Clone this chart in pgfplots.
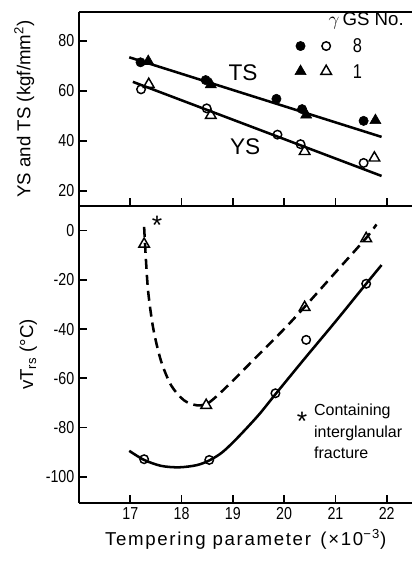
\documentclass[border=0pt]{standalone}
\usepackage{fontspec}
\setmainfont{Liberation Sans}
\newfontfamily\narrowfont[FakeStretch=0.82]{Liberation Sans}
\newfontfamily\widefont[LetterSpace=9]{Liberation Sans}
\usepackage{pgfplots}
\pgfplotsset{compat=1.18}
\usetikzlibrary{calc}
\pgfplotsset{
  every non boxed x axis/.style={},
  every non boxed y axis/.style={},
  panel/.style={
    scale only axis, width=250pt, xmin=16, xmax=22.5,
    xtick={17,18,19,20,21,22},
    tick align=inside, major tick length=6pt,
    tick style={line width=1.3pt, black},
    axis line style={line width=1.6pt},
    /pgf/number format/assume math mode=true,
    tick label style={font=\narrowfont\fontsize{13}{13}\selectfont},
    clip=false,
    every axis y label/.style={at={(axis description cs:0,0.5)}, rotate=90, anchor=center},
    label style={font=\fontsize{14}{16}\selectfont},
  },
  opnc/.style={only marks, mark=o, mark size=3.2pt, mark options={line width=1.1pt, fill=white}, black},
  opnt/.style={only marks, mark=triangle, mark size=4.6pt, mark options={line width=1.1pt, fill=white}, black},
  filc/.style={only marks, mark=*, mark size=3.5pt, black},
  filt/.style={only marks, mark=triangle*, mark size=4.8pt, black},
}
\begin{document}
\begin{tikzpicture}
% upper panel: strength
\begin{axis}[panel, name=top, height=145.5pt,
  ymin=14, ymax=91.5, ytick={20,40,60,80},
  axis x line=box, axis y line=left, xtick pos=lower, xticklabels={},
  ylabel={YS and TS (kgf/mm\textsuperscript{2})},
  ylabel style={yshift=41pt},
]
% TS and YS lines
\addplot[black, line width=1.9pt] coordinates {(16.98,73.4) (21.9,41.6)};
\addplot[black, line width=1.9pt] coordinates {(17.05,63.6) (21.9,26.0)};
% TS, GS 8 / GS 1
\addplot[filc] coordinates {(17.2,71.4) (18.47,64.3) (19.85,56.8) (20.35,52.7) (21.55,48.0)};
\addplot[filt] coordinates {(17.35,71.8) (18.57,62.5) (20.43,50.4) (21.78,48.2)};
% YS, GS 8 / GS 1
\addplot[opnc] coordinates {(17.21,60.6) (18.49,53.0) (19.87,42.5) (20.32,38.7) (21.55,31.2)};
\addplot[opnt] coordinates {(17.36,62.6) (18.57,50.2) (20.4,35.8) (21.76,33.2)};
\node[font=\fontsize{17}{18}\selectfont] at (axis cs:19.2,67.1) {TS};
\node[font=\fontsize{17}{18}\selectfont] at (axis cs:19.24,37.5) {YS};
% key
\addplot[filc] coordinates {(20.32,77.9)};
\addplot[opnc] coordinates {(20.82,77.9)};
\addplot[filt] coordinates {(20.32,67.8)};
\addplot[opnt] coordinates {(20.82,67.8)};
\node[font=\narrowfont\fontsize{15}{15}\selectfont] at (axis cs:21.43,77.9) {8};
\node[font=\narrowfont\fontsize{15}{15}\selectfont] at (axis cs:21.43,67.5) {1};
\node[font=\fontsize{14}{14}\selectfont] at (axis cs:21.6,87.9) {$\gamma$\,GS No.};
\end{axis}
% lower panel: vTrs
\begin{axis}[panel, name=bot, height=222.75pt, at={(top.south west)}, anchor=north west,
  ymin=-110.7, ymax=10, ytick={-100,-80,-60,-40,-20,0},
  yticklabels={-100,-80,-60,-40,-20,0},
  axis x line=bottom, axis y line=left,
  xticklabels={17,18,19,20,21,22},
  xlabel={\widefont Tempering parameter\enspace(×10\textsuperscript{−3})},
  ylabel={vT\textsubscript{rs} (\textdegree C)},
  ylabel style={yshift=38pt},
]
\addplot[black, line width=1.9pt, smooth] coordinates {
  (16.98,-89.5) (17.27,-93.2) (17.6,-95.6) (17.95,-96.2) (18.3,-95.3) (18.55,-93.3)
  (18.8,-90.0) (19.1,-84.0) (19.5,-75.0) (19.83,-66.5) (20.4,-52.0) (21.0,-37.0)
  (21.6,-21.6) (21.9,-14.0)};
\addplot[black, line width=1.9pt, smooth, dash pattern=on 7.5pt off 4.5pt] coordinates {
  (17.27,1.5) (17.30,-10) (17.35,-25) (17.45,-40) (17.6,-53) (17.8,-63)
  (18.05,-69) (18.3,-71) (18.5,-70.3) (18.7,-67) (19.0,-61) (19.5,-50.5)
  (20.0,-40) (20.4,-31) (21.0,-17) (21.6,-3) (21.8,2.5)};
\addplot[opnc] coordinates {(17.27,-92.9) (18.54,-93.2) (19.83,-66.1) (20.43,-44.4) (21.6,-21.6)};
\addplot[opnt] coordinates {(17.27,-5.5) (18.48,-71.0) (20.4,-31.2) (21.6,-3.2)};
\node[font=\fontsize{20}{20}\selectfont] at (axis cs:17.52,2.0) {*};
\node[font=\fontsize{20}{20}\selectfont] at (axis cs:20.35,-77.5) {*};
\node[anchor=north west, align=left, font=\fontsize{12}{16}\selectfont, inner sep=0pt]
  at (axis cs:20.58,-70.5) {Containing\\interglanular\\fracture};
\end{axis}
\path ($(top.north west)+(-59.25pt,9pt)$) rectangle ($(bot.south east)+(0,-45pt)$);
\end{tikzpicture}
\end{document}
